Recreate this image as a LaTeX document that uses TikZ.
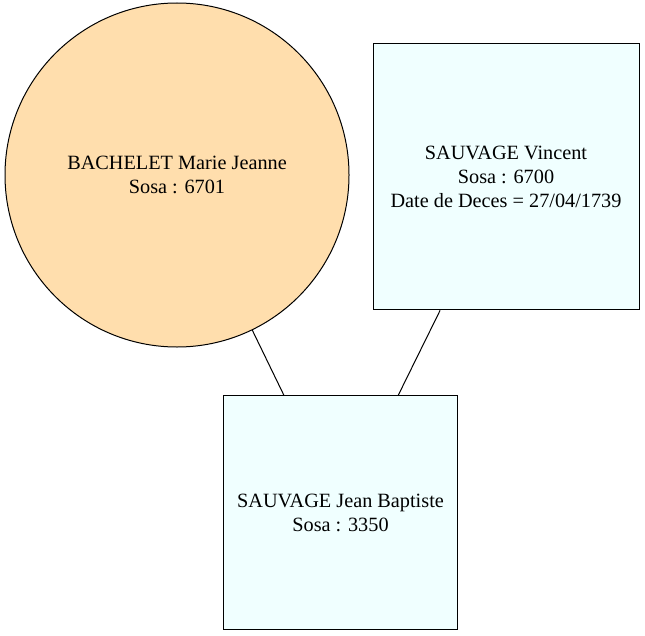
\documentclass[tikz,border=0pt]{standalone}
\usepackage{fontspec}
\setmainfont{Liberation Serif}
\definecolor{Peach}{HTML}{FFDEAD}
\definecolor{Azur}{HTML}{F0FFFF}
\usetikzlibrary{positioning}

\begin{document}
\begin{tikzpicture}[
            x=0.75pt, y=-0.75pt,
            person/.style={draw=black, line width=0.75pt, align=center,
                           font=\fontsize{15.2pt}{18pt}\selectfont, inner sep=0pt},
            mere/.style={person, circle, fill=Peach, minimum size=258pt},
            pere/.style={person, rectangle, fill=Azur},
            link/.style={line width=0.75pt, black}
        ]
            \useasboundingbox (0,0) rectangle (645,635);
            \node[mere] (marie) at (177,175) {BACHELET Marie Jeanne\\Sosa : 6701};
            \node[pere, minimum width=199.5pt, minimum height=200pt] (vincent) at (506,176.5)
                {SAUVAGE Vincent\\Sosa : 6700\\Date de Deces = 27/04/1739};
            \node[pere, minimum width=175pt, minimum height=175pt] (jean) at (340.5,512.5)
                {SAUVAGE Jean Baptiste\\Sosa : 3350};

            \draw[link] (marie) -- (jean);
            \draw[link] (vincent) -- (jean);
        \end{tikzpicture}
\end{document}
